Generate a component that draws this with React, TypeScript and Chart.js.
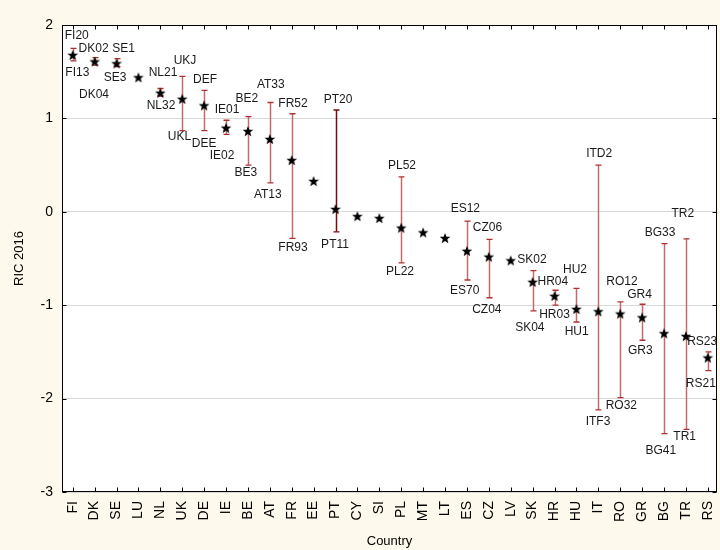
import React, { useEffect, useRef } from 'react';
import { Chart, registerables } from 'chart.js';

Chart.register(...registerables);

// ---- data ----
const countries = ['FI', 'DK', 'SE', 'LU', 'NL', 'UK', 'DE', 'IE', 'BE', 'AT', 'FR', 'EE', 'PT', 'CY', 'SI', 'PL', 'MT', 'LT', 'ES', 'CZ', 'LV', 'SK', 'HR', 'HU', 'IT', 'RO', 'GR', 'BG', 'TR', 'RS'];
const ric = [1.68, 1.61, 1.59, 1.44, 1.275, 1.21, 1.14, 0.9, 0.865, 0.78, 0.554, 0.33, 0.03, -0.046, -0.067, -0.17, -0.22, -0.28, -0.418, -0.48, -0.52, -0.75, -0.9, -1.04, -1.065, -1.09, -1.13, -1.3, -1.33, -1.56];
const upper = [1.75, 1.65, 1.64, null, 1.32, 1.45, 1.3, 0.98, 1.02, 1.17, 1.05, null, 1.09, null, null, 0.375, null, null, -0.1, -0.296, null, -0.63, -0.84, -0.82, 0.5, -0.965, -0.99, -0.34, -0.29, -1.5];
const lower = [1.615, 1.57, 1.555, null, 1.24, 0.87, 0.87, 0.83, 0.5, 0.31, -0.285, null, -0.214, null, null, -0.547, null, null, -0.73, -0.92, null, -1.06, -1.0, -1.18, -2.12, -1.99, -1.375, -2.375, -2.33, -1.7];
const upperLabels = ['FI20', 'DK02', 'SE1', '', 'NL21', 'UKJ', 'DEF', 'IE01', 'BE2', 'AT33', 'FR52', '', 'PT20', '', '', 'PL52', '', '', 'ES12', 'CZ06', '', 'SK02', 'HR04', 'HU2', 'ITD2', 'RO12', 'GR4', 'BG33', 'TR2', 'RS23'];
const lowerLabels = ['FI13', 'DK04', 'SE3', '', 'NL32', 'UKL', 'DEE', 'IE02', 'BE3', 'AT13', 'FR93', '', 'PT11', '', '', 'PL22', '', '', 'ES70', 'CZ04', '', 'SK04', 'HR03', 'HU1', 'ITF3', 'RO32', 'GR3', 'BG41', 'TR1', 'RS21'];
const yTicks = [-3, -2, -1, 0, 1, 2];
const darkBars = ['PT'];

// ---- label placement (pixel offsets from bar ends) ----
const upperDx = [4, -1, 7, 0, 2.7, 2.8, 1, 1, -1, 1, 1.3, 0, 2.5, 0, 0, 0.8, 0, 0, -1.6, -1.3, 0, -0.6, -1.7, -1.4, 0.9, 1.8, -2.6, -4, -3.1, -5.6];
const upperDy = [-12.6, -8.7, -10, 0, -16, -15.7, -10.3, -10.3, -18.3, -17.7, -9.7, 0, -10, 0, 0, -11, 0, 0, -12.6, -11.3, 0, -11, -8.3, -19, -11, -20, -9.3, -11.3, -24.7, -10];
const lowerDx = [4.6, -0.6, -1.5, 0, 0.7, -2.7, 0, -4, -2.2, -2, 1.3, 0, -0.5, 0, 0, -1.2, 0, 0, -2.2, -2, 0, -2.8, 0, 0.3, -0.3, 1.1, -1.8, -3.2, -1.2, -7];
const lowerDy = [11.7, 30, 11, 0, 10, 6, 13.3, 21.7, 8, 11.6, 9.4, 0, 12.6, 0, 0, 8.3, 0, 0, 10.3, 12.3, 0, 16.7, 9.7, 9.3, 11.4, 7.7, 10, 17.4, 7.6, 13.3];

const FONT = '"Liberation Sans", Arial, sans-serif';

function makeStar(): HTMLCanvasElement {
  const c = document.createElement('canvas');
  c.width = 12;
  c.height = 12;
  const ctx = c.getContext('2d')!;
  ctx.fillStyle = '#000';
  ctx.beginPath();
  for (let i = 0; i < 10; i++) {
    const r = i % 2 === 0 ? 5.6 : 2.4;
    const a = -Math.PI / 2 + (i * Math.PI) / 5;
    const x = 6 + r * Math.cos(a);
    const y = 6.6 + r * Math.sin(a);
    if (i === 0) ctx.moveTo(x, y);
    else ctx.lineTo(x, y);
  }
  ctx.closePath();
  ctx.fill();
  return c;
}

const framePlugin = {
  id: 'frame',
  beforeDraw(chart: any) {
    const { ctx, chartArea: a, width, height } = chart;
    ctx.save();
    ctx.fillStyle = '#fdf9ec';
    ctx.fillRect(0, 0, width, height);
    ctx.fillStyle = '#ffffff';
    ctx.fillRect(a.left, a.top, a.right - a.left, a.bottom - a.top);
    ctx.restore();
  },
  beforeDatasetsDraw(chart: any) {
    const { ctx } = chart;
    const xs = chart.scales.x;
    const ys = chart.scales.y;
    ctx.save();
    for (let i = 0; i < countries.length; i++) {
      const hi = upper[i];
      const lo = lower[i];
      if (hi == null || lo == null) continue;
      const dark = darkBars.includes(countries[i]);
      const x = Math.round(xs.getPixelForValue(i)) + 0.5;
      const yt = ys.getPixelForValue(hi);
      const yb = ys.getPixelForValue(lo);
      ctx.strokeStyle = dark ? '#7a0a0a' : '#c46a6a';
      ctx.lineWidth = 1.5;
      ctx.beginPath();
      ctx.moveTo(x, yt);
      ctx.lineTo(x, yb);
      ctx.stroke();
      ctx.strokeStyle = dark ? '#7a0a0a' : '#b03030';
      ctx.lineWidth = 1.3;
      ctx.beginPath();
      ctx.moveTo(x - 3, yt);
      ctx.lineTo(x + 3, yt);
      ctx.moveTo(x - 3, yb);
      ctx.lineTo(x + 3, yb);
      ctx.stroke();
    }
    ctx.restore();
  },
  afterDatasetsDraw(chart: any) {
    const { ctx, chartArea: a } = chart;
    const xs = chart.scales.x;
    const ys = chart.scales.y;
    ctx.save();
    // frame with inward ticks
    const L = Math.round(a.left) + 0.5;
    const R = Math.round(a.right) - 0.5;
    const T = Math.round(a.top) + 0.5;
    const B = Math.round(a.bottom) - 0.5;
    ctx.strokeStyle = '#000';
    ctx.lineWidth = 1;
    ctx.strokeRect(L, T, R - L, B - T);
    ctx.beginPath();
    for (let i = 0; i < countries.length; i++) {
      const x = Math.round(xs.getPixelForValue(i)) + 0.5;
      ctx.moveTo(x, B);
      ctx.lineTo(x, B - 4);
      ctx.moveTo(x, T);
      ctx.lineTo(x, T + 4);
    }
    for (const v of yTicks) {
      const y = Math.round(ys.getPixelForValue(v)) + 0.5;
      ctx.moveTo(L, y);
      ctx.lineTo(L + 4, y);
      ctx.moveTo(R, y);
      ctx.lineTo(R - 4, y);
    }
    ctx.stroke();
    // region labels
    ctx.fillStyle = '#1a1a1a';
    ctx.font = '12px ' + FONT;
    ctx.textAlign = 'center';
    ctx.textBaseline = 'middle';
    for (let i = 0; i < countries.length; i++) {
      const hi = upper[i];
      const lo = lower[i];
      if (hi == null || lo == null) continue;
      const x = xs.getPixelForValue(i);
      if (upperLabels[i]) ctx.fillText(upperLabels[i], x + upperDx[i], ys.getPixelForValue(hi) + upperDy[i]);
      if (lowerLabels[i]) ctx.fillText(lowerLabels[i], x + lowerDx[i], ys.getPixelForValue(lo) + lowerDy[i]);
    }
    ctx.restore();
  },
};

export default function App() {
  const ref = useRef<HTMLCanvasElement | null>(null);
  useEffect(() => {
    if (!ref.current) return;
    const star = makeStar();
    const chart = new Chart(ref.current, {
      type: 'scatter',
      data: {
        datasets: [
          {
            label: 'RIC 2016',
            data: ric.map((v, i) => ({ x: i, y: v })),
            pointStyle: star as any,
            pointRadius: 6,
            pointHoverRadius: 6,
            showLine: false,
          },
        ],
      },
      options: {
        animation: false,
        responsive: false,
        devicePixelRatio: 1,
        layout: { autoPadding: false, padding: { top: 25, right: 3, left: 0, bottom: 0 } },
        plugins: { legend: { display: false }, tooltip: { enabled: false } },
        scales: {
          x: {
            type: 'linear',
            min: -0.49,
            max: 29.42,
            afterBuildTicks: (s: any) => {
              s.ticks = countries.map((_, i) => ({ value: i }));
            },
            afterFit: (s: any) => {
              s.height = 58;
              s.paddingLeft = 0;
              s.paddingRight = 0;
            },
            grid: { display: false, drawTicks: false },
            border: { display: false },
            ticks: {
              autoSkip: false,
              minRotation: 90,
              maxRotation: 90,
              padding: 9,
              color: '#000',
              font: { family: FONT, size: 14 },
              callback: (v: any) => countries[v as number] ?? '',
            },
            title: {
              display: true,
              text: 'Country',
              color: '#000',
              font: { family: FONT, size: 13 },
              padding: { top: 0, bottom: 1 },
            },
          },
          y: {
            min: -3,
            max: 2,
            afterBuildTicks: (s: any) => {
              s.ticks = yTicks.map((v) => ({ value: v }));
            },
            afterFit: (s: any) => {
              s.width = 62;
              s.paddingTop = 0;
              s.paddingBottom = 0;
            },
            grid: { color: '#d9d9d9', drawTicks: false },
            border: { display: false },
            ticks: {
              padding: 9,
              color: '#000',
              font: { family: FONT, size: 14 },
            },
            title: {
              display: true,
              text: 'RIC 2016',
              color: '#000',
              font: { family: FONT, size: 13 },
              padding: { top: 12, bottom: 0 },
            },
          },
        },
      },
      plugins: [framePlugin],
    });
    return () => chart.destroy();
  }, []);
  return (
    <div style={{ position: 'absolute', left: 0, top: 0, width: 720, height: 550, background: '#fdf9ec' }}>
      <canvas ref={ref} width={720} height={550} />
    </div>
  );
}
